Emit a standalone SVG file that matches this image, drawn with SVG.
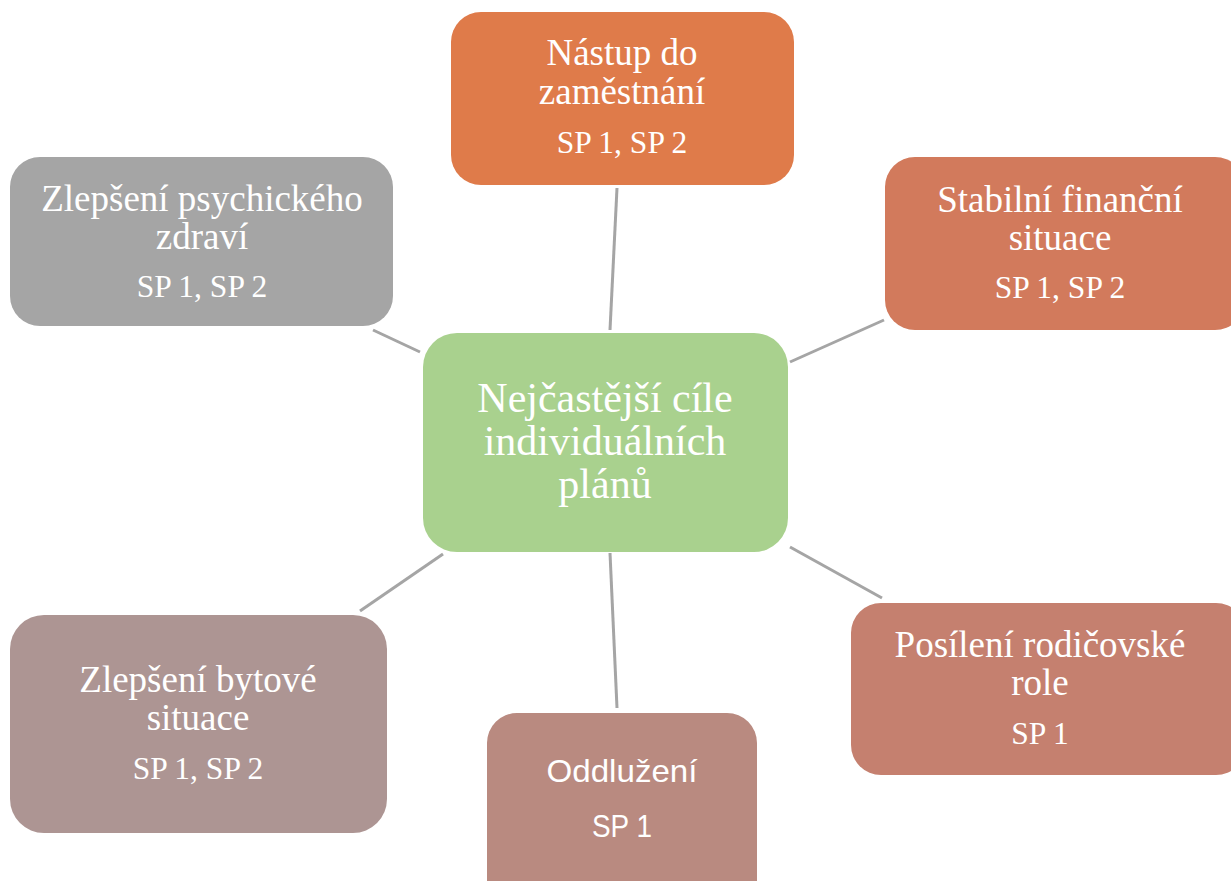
<svg xmlns="http://www.w3.org/2000/svg" width="1231" height="881" viewBox="0 0 1231 881">
<style>
.t{font-family:"Liberation Serif","Times New Roman",serif;fill:#fff;text-anchor:middle;font-size:37px}
.s{font-size:31.5px}
.c{font-size:42px}
.sans{font-family:"Liberation Sans",Arial,sans-serif;font-size:32px;fill:#fff;text-anchor:middle}
.ln{stroke:#a5a5a5;stroke-width:3;fill:none}
</style>
<rect width="1231" height="881" fill="#fff"/>
<g id="connectors">
<line class="ln" x1="617" y1="188" x2="610" y2="330"/>
<line class="ln" x1="373" y1="330" x2="420" y2="352"/>
<line class="ln" x1="884" y1="320" x2="790" y2="362"/>
<line class="ln" x1="443" y1="554" x2="360" y2="611"/>
<line class="ln" x1="610" y1="553" x2="617" y2="708"/>
<line class="ln" x1="790" y1="547" x2="882" y2="598"/>
</g>
<g id="center">
<rect x="423" y="333" width="365" height="219" rx="34" fill="#a9d18e"/>
<text class="t c" x="605" y="412">Nejčastější cíle</text>
<text class="t c" x="605" y="455">individuálních</text>
<text class="t c" x="605" y="498">plánů</text>
</g>
<g id="nastup">
<rect x="451" y="12" width="343" height="173" rx="30" fill="#df7b4a"/>
<text class="t" x="622" y="65">Nástup do</text>
<text class="t" x="622" y="104">zaměstnání</text>
<text class="t s" x="622" y="153">SP 1, SP 2</text>
</g>
<g id="psychicke">
<rect x="10" y="157" width="383" height="169" rx="30" fill="#a5a5a5"/>
<text class="t" x="202" y="211">Zlepšení psychického</text>
<text class="t" x="202" y="249">zdraví</text>
<text class="t s" x="202" y="297">SP 1, SP 2</text>
</g>
<g id="financni">
<rect x="885" y="157" width="360" height="173" rx="30" fill="#d27a5c"/>
<text class="t" x="1060" y="212">Stabilní finanční</text>
<text class="t" x="1060" y="250">situace</text>
<text class="t s" x="1060" y="298">SP 1, SP 2</text>
</g>
<g id="rodicovske">
<rect x="851" y="603" width="395" height="172" rx="30" fill="#c5806f"/>
<text class="t" x="1040" y="657">Posílení rodičovské</text>
<text class="t" x="1040" y="695">role</text>
<text class="t s" x="1040" y="744">SP 1</text>
</g>
<g id="oddluzeni">
<rect x="487" y="713" width="270" height="200" rx="30" fill="#b98a80"/>
<text class="sans" x="622" y="782" textLength="151" lengthAdjust="spacingAndGlyphs">Oddlužení</text>
<text class="sans" x="622" y="837" textLength="60" lengthAdjust="spacingAndGlyphs">SP 1</text>
</g>
<g id="bytove">
<rect x="10" y="615" width="377" height="218" rx="34" fill="#ad9593"/>
<text class="t" x="198" y="692">Zlepšení bytové</text>
<text class="t" x="198" y="730">situace</text>
<text class="t s" x="198" y="779">SP 1, SP 2</text>
</g>
</svg>
